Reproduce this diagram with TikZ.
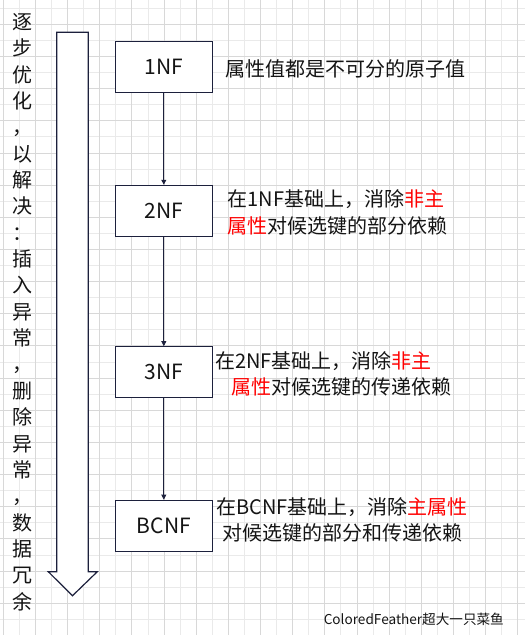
\documentclass[tikz,border=0pt]{standalone}
\usepackage{fontspec}
\setmainfont{Noto Sans CJK SC}
\usetikzlibrary{arrows.meta}
\definecolor{navy}{RGB}{28,32,60}
\definecolor{gridA}{RGB}{216,216,216}
\definecolor{gridB}{RGB}{234,234,234}
\definecolor{redtxt}{RGB}{255,0,0}
\definecolor{txt}{RGB}{20,20,20}
\tikzset{
  nfbox/.style={draw=navy, line width=1.1pt, fill=white, minimum width=97pt, minimum height=51pt, inner sep=0pt, text=txt, font=\fontsize{21}{24}\selectfont},
  desc/.style={anchor=base west, inner sep=0pt, text=txt, font=\fontsize{20}{24}\selectfont},
  vchar/.style={inner sep=0pt, text=txt, text height=17.6pt, text depth=2.4pt, font=\fontsize{20}{24}\selectfont},
  flow/.style={draw=navy, line width=0.8pt, -{Triangle[length=5pt,width=5pt]}},
  bigarrow/.style={draw=navy, line width=1.2pt, fill=white, line join=miter},
}
\begin{document}
\begin{tikzpicture}[x=1pt,y=-1pt]
\useasboundingbox (0,0) rectangle (525,635);
\fill[white] (0,0) rectangle (525,635);
% grid
\foreach \k in {1,3,...,31} \draw[gridB, line width=1pt] ({3.3+\k*16.08},0) -- ({3.3+\k*16.08},635);
\foreach \k in {0,2,...,38} \draw[gridB, line width=1pt] (0,{8.3+\k*16.08}) -- (525,{8.3+\k*16.08});
\foreach \k in {0,2,...,32} \draw[gridA, line width=1pt] ({3.3+\k*16.08},0) -- ({3.3+\k*16.08},635);
\foreach \k in {1,3,...,37} \draw[gridA, line width=1pt] (0,{8.3+\k*16.08}) -- (525,{8.3+\k*16.08});
% big down arrow
\draw[bigarrow] (56.7,32.3) -- (88.3,32.3) -- (88.3,571.7) -- (97.3,571.7) -- (72.5,595.7) -- (48.3,571.7) -- (56.7,571.7) -- cycle;
% vertical text
\foreach \c [count=\i] in {逐,步,优,化,，,以,解,决,：,插,入,异,常,，,删,除,异,常,，,数,据,冗,余}
  \node[vchar] (v\i) at (22.7,{21.7+(\i-1)*26.36}) {\c};
% boxes
\node[nfbox] (n1) at (163.8,66.7) {1NF};
\node[nfbox] (n2) at (163.8,210.8) {2NF};
\node[nfbox] (n3) at (163.8,372.2) {3NF};
\node[nfbox] (n4) at (163.8,525.7) {BCNF};
\draw[flow] (n1) -- (n2);
\draw[flow] (n2) -- (n3);
\draw[flow] (n3) -- (n4);
% descriptions
\node[desc] (d1) at (225.7,76.8) {属性值都是不可分的原子值};
\node[desc] (d2a) at (227.3,206.8) {在1NF基础上，消除\textcolor{redtxt}{非主}};
\node[desc] (d2b) at (227.3,233.1) {\textcolor{redtxt}{属性}对候选键的部分依赖};
\node[desc] (d3a) at (215,368.1) {在2NF基础上，消除\textcolor{redtxt}{非主}};
\node[desc] (d3b) at (231.3,394.6) {\textcolor{redtxt}{属性}对候选键的传递依赖};
\node[desc] (d4a) at (216.3,514.6) {在BCNF基础上，消除\textcolor{redtxt}{主属性}};
\node[desc] (d4b) at (222.3,540.4) {对候选键的部分和传递依赖};
\node[anchor=base east, inner sep=0pt, text=txt, font=\fontsize{13.6}{16}\selectfont] (foot) at (504,624.5) {ColoredFeather超大一只菜鱼};
\end{tikzpicture}
\end{document}
